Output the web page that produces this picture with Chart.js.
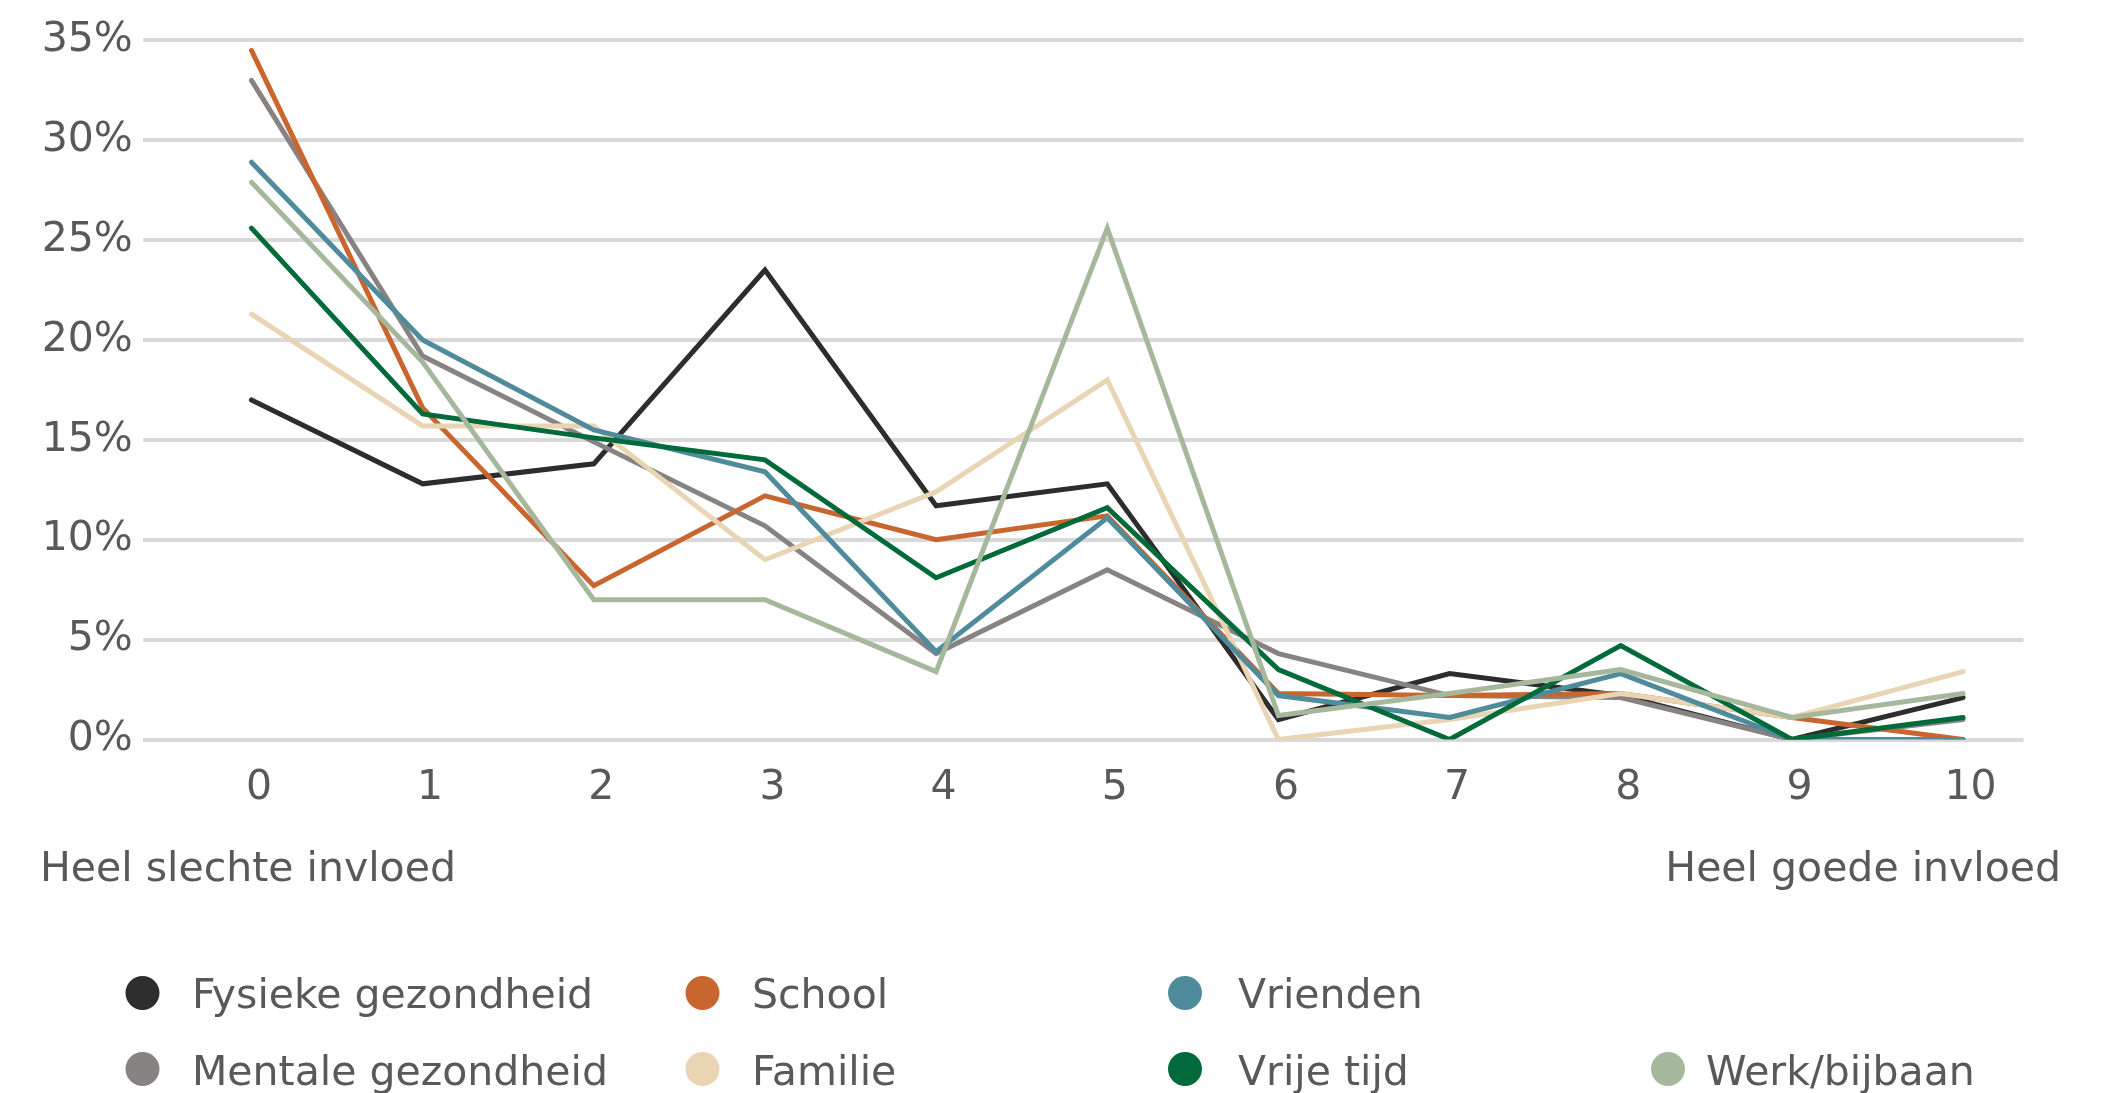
<!DOCTYPE html>
<html>
<head>
<meta charset="utf-8">
<script src="https://cdn.jsdelivr.net/npm/chart.js@4"></script>
<style>
  html, body { margin: 0; padding: 0; background: #fff; overflow: hidden; }
  canvas { display: block; }
</style>
</head>
<body>
<canvas id="invloedChart" width="2120" height="1093"></canvas>
<script>
// scores 0 (heel slechte invloed) .. 10 (heel goede invloed), share in %
const categories = [0, 1, 2, 3, 4, 5, 6, 7, 8, 9, 10];
const yTicks = [0, 5, 10, 15, 20, 25, 30, 35];
const endLabels = ['Heel slechte invloed', 'Heel goede invloed'];

const seriesNames = ['Fysieke gezondheid', 'Mentale gezondheid', 'School', 'Familie', 'Vrienden', 'Vrije tijd', 'Werk/bijbaan'];
const fysiek = [17.0, 12.8, 13.8, 23.5, 11.7, 12.8, 1.0, 3.3, 2.2, 0, 2.1];
const mentaal = [33.0, 19.2, 14.9, 10.7, 4.3, 8.5, 4.3, 2.2, 2.1, 0, 1.0];
const school = [34.5, 16.6, 7.7, 12.2, 10.0, 11.2, 2.3, 2.2, 2.3, 1.1, 0];
const familie = [21.3, 15.7, 15.7, 9.0, 12.4, 18.0, 0, 1.0, 2.3, 1.1, 3.4];
const vrienden = [28.9, 20.0, 15.5, 13.4, 4.4, 11.1, 2.2, 1.1, 3.3, 0, 0];
const vrijeTijd = [25.6, 16.3, 15.1, 14.0, 8.1, 11.6, 3.5, 0, 4.7, 0, 1.1];
const werk = [27.9, 18.9, 7.0, 7.0, 3.4, 25.6, 1.2, 2.3, 3.5, 1.1, 2.3];

const seriesValues = [fysiek, mentaal, school, familie, vrienden, vrijeTijd, werk];
const colors = ['#2d2d2d', '#878383', '#c9662f', '#e9d4b4', '#4f8b9b', '#006a3a', '#a5b89c'];

const FONT = '"DejaVu Sans", Verdana, sans-serif';
const TEXT = '#595959';

// legend slots: [circle x, circle y, text x, baseline]
const legendSlots = [
  [142.5, 993, 192, 1008],
  [142.5, 1069, 192, 1085],
  [702.5, 993, 752, 1008],
  [702.5, 1069, 752, 1085],
  [1185, 993, 1238, 1008],
  [1185, 1069, 1238, 1085],
  [1668, 1069, 1706, 1085]
];

const extras = {
  id: 'extras',
  afterDraw(chart) {
    const ctx = chart.ctx;
    ctx.save();
    ctx.font = '41px ' + FONT;
    ctx.fillStyle = TEXT;
    ctx.textBaseline = 'alphabetic';
    ctx.textAlign = 'left';
    ctx.fillText(endLabels[0], 40, 881);
    ctx.textAlign = 'right';
    ctx.fillText(endLabels[1], 2061, 881);

    ctx.textAlign = 'left';
    chart.data.datasets.forEach((ds, i) => {
      const [cx, cy, tx, by] = legendSlots[i];
      ctx.beginPath();
      ctx.arc(cx, cy, 17, 0, Math.PI * 2);
      ctx.fillStyle = ds.borderColor;
      ctx.fill();
      ctx.fillStyle = TEXT;
      ctx.fillText(ds.label, tx, by);
    });
    ctx.restore();
  }
};

new Chart(document.getElementById('invloedChart'), {
  type: 'line',
  data: {
    datasets: seriesNames.map((name, i) => ({
      label: name,
      data: categories.map((c, j) => ({ x: c, y: seriesValues[i][j] })),
      borderColor: colors[i],
      backgroundColor: colors[i],
      borderWidth: 5,
      borderCapStyle: 'round',
      borderJoinStyle: 'miter',
      pointRadius: 0,
      tension: 0,
      order: seriesNames.length - i
    }))
  },
  options: {
    responsive: false,
    animation: false,
    devicePixelRatio: 1,
    layout: { padding: { left: 0, right: 96.5, top: 40.4, bottom: 253.5 } },
    plugins: { legend: { display: false }, tooltip: { enabled: false } },
    scales: {
      x: {
        type: 'linear',
        min: -0.632,
        max: 10.353,
        grid: { display: false },
        border: { display: false },
        afterFit(scale) { scale.height = 100; },
        ticks: {
          stepSize: 1,
          includeBounds: false,
          autoSkip: false,
          maxRotation: 0,
          padding: 16,
          labelOffset: 7.5,
          color: TEXT,
          font: { family: FONT, size: 41 },
          callback: (v) => categories.includes(v) ? String(v) : ''
        }
      },
      y: {
        min: 0,
        max: 35,
        afterFit(scale) { scale.width = 143.3; },
        afterBuildTicks(scale) { scale.ticks = yTicks.map(v => ({ value: v })); },
        grid: { color: '#d9d9d9', lineWidth: 4, drawTicks: false },
        border: { display: false },
        ticks: {
          padding: 10.5,
          color: TEXT,
          font: { family: FONT, size: 41 },
          callback: (v) => v + '%'
        }
      }
    }
  },
  plugins: [extras]
});
</script>
</body>
</html>
